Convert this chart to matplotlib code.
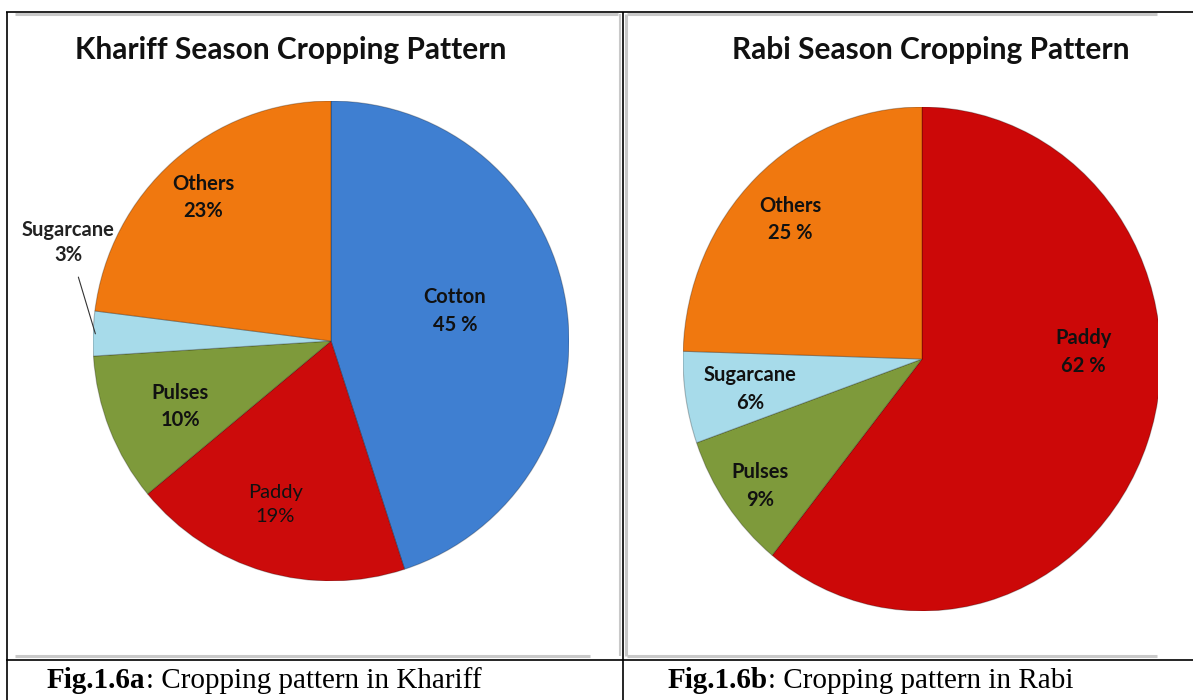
import matplotlib
matplotlib.use("Agg")
import matplotlib.pyplot as plt
from matplotlib.lines import Line2D

W, H = 1193, 700

# kharif season data
khariff_crops = ["Cotton", "Paddy", "Pulses", "Sugarcane", "Others"]
khariff_share = [45, 19, 10, 3, 23]
khariff_labels = ["Cotton\n45 %", "Paddy\n19%", "Pulses\n10%", "Sugarcane\n3%", "Others\n23%"]
khariff_colors = ["#3f7fd1", "#cc0b0b", "#7e9a3b", "#a7dbea", "#f0780f"]

# rabi season data
rabi_crops = ["Paddy", "Pulses", "Sugarcane", "Others"]
rabi_share = [62, 9, 6, 25]
rabi_labels = ["Paddy\n62 %", "Pulses\n9%", "Sugarcane\n6%", "Others\n25 %"]
rabi_colors = ["#cc0808", "#7e9a3b", "#a7dbea", "#f0780f"]

titles = ["Khariff Season Cropping Pattern", "Rabi Season Cropping Pattern"]
captions = [("Fig.1.6a", ": Cropping pattern in Khariff"),
            ("Fig.1.6b", ": Cropping pattern in Rabi")]


def fx(x):
    return x / W


def fy(y):
    return 1 - y / H


def hline(fig, x0, x1, y, color="black", lw=1.2):
    fig.add_artist(Line2D([fx(x0), fx(x1)], [fy(y), fy(y)], transform=fig.transFigure,
                          color=color, lw=lw, solid_capstyle="butt"))


def vline(fig, x, y0, y1, color="black", lw=1.2):
    fig.add_artist(Line2D([fx(x), fx(x)], [fy(y0), fy(y1)], transform=fig.transFigure,
                          color=color, lw=lw, solid_capstyle="butt"))


def pie_axes(fig, cx, cy, rx, ry, right_clip=None):
    x1 = cx + rx if right_clip is None else right_clip
    ax = fig.add_axes([fx(cx - rx), fy(cy + ry), (x1 - (cx - rx)) / W, 2 * ry / H])
    ax.axis("off")
    return ax, (-1, (x1 - cx) / rx)


def fix_axes(ax, xlim):
    ax.set_aspect("auto")
    ax.set_xlim(xlim)
    ax.set_ylim(-1, 1)


fig = plt.figure(figsize=(W / 100, H / 100), dpi=100)
fig.patch.set_facecolor("white")

# image shadows
gray = "#c9c9c9"
hline(fig, 15, 618, 13.5, gray, 2.2)
hline(fig, 627, 1157, 13.5, gray, 2.2)
hline(fig, 15, 590, 656, gray, 2.2)
hline(fig, 627, 1157, 656, gray, 2.2)
vline(fig, 619.5, 14, 656, gray, 1.5)
vline(fig, 625.5, 14, 656, gray, 2.2)

# table borders
hline(fig, 6, W, 12)
vline(fig, 7, 12, H)
vline(fig, 622.5, 12, H)
hline(fig, 6, W, 660)

label_font = "Lato"
edge = dict(edgecolor=(0, 0, 0, 0.25), linewidth=0.8, clip_on=True)
lab_size = 14.5

# left pie
ax1, xl1 = pie_axes(fig, 331, 341, 238, 240)
ax1.pie(khariff_share, colors=khariff_colors, startangle=90, counterclock=False,
        wedgeprops=edge, radius=1)
fix_axes(ax1, xl1)
left_pos = [(0.521, 0.125), (-0.235, -0.681), (-0.634, -0.273), None, (-0.538, 0.597)]
left_weight = ["bold", "normal", "bold", "bold", "bold"]
for lab, pos, wgt in zip(khariff_labels, left_pos, left_weight):
    if pos is None:
        continue
    ax1.text(pos[0], pos[1], lab, ha="center", va="center", fontsize=lab_size,
             fontweight=wgt, family=label_font, color="#111111", linespacing=1.45)
# sugarcane label sits outside with a leader line
ax1.annotate(khariff_labels[3], xy=(-0.99, 0.03), xytext=(-1.105, 0.41),
             ha="center", va="center", fontsize=14.5, fontweight="bold", family=label_font,
             color="#222222", linespacing=1.3, annotation_clip=False,
             arrowprops=dict(arrowstyle="-", color="#333333", lw=0.8,
                             shrinkA=7, shrinkB=0))

# right pie, clipped at the right edge like the source image
ax2, xl2 = pie_axes(fig, 922, 359, 239, 252, right_clip=1158)
ax2.pie(rabi_share, colors=rabi_colors, startangle=90, counterclock=False,
        wedgeprops=edge, radius=1)
fix_axes(ax2, xl2)
right_pos = [(0.674, 0.028), (-0.678, -0.504), (-0.72, -0.119), (-0.552, 0.552)]
for lab, pos in zip(rabi_labels, right_pos):
    ax2.text(pos[0], pos[1], lab, ha="center", va="center", fontsize=lab_size,
             fontweight="bold", family=label_font, color="#111111", linespacing=1.45)

# titles
fig.text(fx(291), fy(50), titles[0], ha="center", va="center", fontsize=21.5,
         fontweight="bold", family=label_font, color="#111111")
fig.text(fx(931), fy(50), titles[1], ha="center", va="center", fontsize=21.5,
         fontweight="bold", family=label_font, color="#111111")

# captions: bold figure number followed by normal text
renderer = fig.canvas.get_renderer()
for (num, rest), x0 in zip(captions, [47, 668]):
    t = fig.text(fx(x0), fy(681), num, ha="left", va="center", fontsize=21,
                 fontweight="bold", family="Liberation Serif")
    bb = t.get_window_extent(renderer)
    fig.text(bb.x1 / W, fy(681), rest, ha="left", va="center", fontsize=21,
             family="Liberation Serif")

plt.savefig("out.png", dpi=100)
plt.close()
